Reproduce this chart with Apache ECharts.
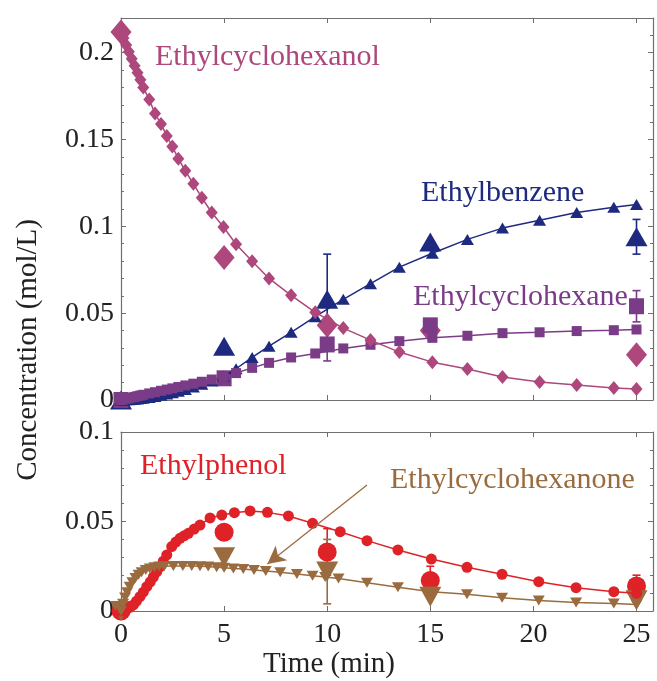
<html>
<head>
    <meta charset="utf-8">
    <script src="https://cdn.jsdelivr.net/npm/echarts@6/dist/echarts.min.js"></script>
    <style>
        html, body { margin: 0; padding: 0; background: #fff; }
        #main { width: 657px; height: 681px; }
    </style>
</head>
<body>
<div id="main"></div>
<script>
    // model time grid, top panel (min)
    var tTop = [0, 0.12, 0.25, 0.38, 0.52, 0.66, 0.8, 0.94, 1.08, 1.37, 1.65, 1.94, 2.22, 2.49, 2.78, 3.12,
        3.51, 3.92, 4.4, 4.97, 5.58, 6.36, 7.18, 8.25, 9.42, 10.78, 12.1, 13.5, 15.1, 16.8, 18.5, 20.3,
        22.1, 23.9, 25];
    var alcoholModel = [0.212, 0.2085, 0.2045, 0.2005, 0.1965, 0.1925, 0.1885, 0.1845, 0.18, 0.173, 0.165,
        0.159, 0.152, 0.146, 0.139, 0.132, 0.1245, 0.1165, 0.108, 0.0996, 0.0897, 0.0799, 0.070, 0.0603,
        0.0505, 0.0414, 0.0345, 0.0276, 0.0218, 0.0178, 0.0132, 0.0103, 0.0086, 0.0069, 0.0063];
    var benzeneModel = [0, 0.00005, 0.0001, 0.0002, 0.0003, 0.0004, 0.0006, 0.0008, 0.001, 0.0015, 0.002,
        0.0027, 0.0034, 0.0042, 0.005, 0.006, 0.0075, 0.009, 0.011, 0.0135, 0.018, 0.0245, 0.031, 0.039,
        0.048, 0.058, 0.067, 0.0765, 0.0845, 0.0925, 0.099, 0.1035, 0.108, 0.111, 0.1126];
    var hexaneModel = [0, 0.0003, 0.0007, 0.001, 0.0014, 0.0018, 0.0022, 0.0026, 0.003, 0.0038, 0.0045,
        0.0053, 0.006, 0.0067, 0.0075, 0.0084, 0.0094, 0.0105, 0.0118, 0.0133, 0.0155, 0.0185, 0.0214,
        0.0245, 0.0268, 0.0297, 0.0318, 0.0339, 0.0358, 0.037, 0.0385, 0.039, 0.0397, 0.0402, 0.0406];

    // bottom panel models
    var tPhenol = [0, 0.15, 0.3, 0.45, 0.6, 0.75, 0.92, 1.08, 1.25, 1.42, 1.57, 1.73, 1.89, 2.05, 2.22,
        2.46, 2.66, 2.86, 3.06, 3.27, 3.55, 3.83, 4.32, 4.89, 5.5, 6.26, 7.1, 8.12, 9.29, 10.63, 11.93,
        13.43, 15.05, 16.78, 18.48, 20.26, 22.07, 23.9, 25];
    var phenolModel = [0, 0.0004, 0.0012, 0.0022, 0.0034, 0.0055, 0.008, 0.0105, 0.0136, 0.0163, 0.019,
        0.0218, 0.0247, 0.0278, 0.0313, 0.036, 0.0385, 0.0406, 0.042, 0.0434, 0.0458, 0.048, 0.052,
        0.0536, 0.0549, 0.0559, 0.0551, 0.0531, 0.049, 0.0443, 0.0393, 0.0341, 0.029, 0.0244, 0.0205,
        0.0164, 0.013, 0.0108, 0.0099];
    var tKetone = [0, 0.1, 0.2, 0.3, 0.42, 0.55, 0.7, 0.85, 1.0, 1.2, 1.4, 1.62, 1.85, 2.1, 2.54, 3.0,
        3.43, 3.83, 4.23, 4.64, 5.0, 5.45, 5.93, 6.45, 7.02, 7.72, 8.53, 9.29, 9.9, 10.55, 11.93, 13.43,
        15.05, 16.78, 18.48, 20.26, 22.07, 23.9, 25];
    var ketoneModel = [0, 0.004, 0.0075, 0.0105, 0.0135, 0.016, 0.0185, 0.0203, 0.0217, 0.0229, 0.0238,
        0.0244, 0.0248, 0.025, 0.0252, 0.0252, 0.0251, 0.025, 0.0248, 0.0245, 0.0242, 0.0238, 0.0234,
        0.0229, 0.0224, 0.0216, 0.0207, 0.0197, 0.019, 0.0182, 0.0158, 0.0133, 0.0108, 0.0093, 0.0074,
        0.0058, 0.0047, 0.0042, 0.0037];

    // experiments
    var tExp = [0, 5, 10, 15, 25];
    var alcoholExp = [0.212, 0.082, 0.043, 0.040, 0.026];
    var benzeneExp = [0, 0.031, 0.058, 0.091, 0.094];
    var benzeneErr = [0, 0, 0.026, 0, 0.010];
    var hexaneExp = [0, 0.0125, 0.032, 0.043, 0.054];
    var hexaneErr = [0, 0, 0.0095, 0, 0.009];
    var phenolExp = [0, 0.044, 0.033, 0.017, 0.014];
    var phenolErr = [0, 0, 0.013, 0.008, 0.006];
    var ketoneExp = [0, 0.030, 0.022, 0.008, 0.006];
    var ketoneErr = [0, 0, 0.018, 0, 0];

    var C_ALC = '#ad477c', C_BEN = '#1d2a80', C_HEX = '#7b3c87', C_PHE = '#de2227', C_KET = '#9a6b3f';
    var FONT = 'Liberation Serif';
    var AXIS = '#6f6f6f';

    function zip(t, v) {
        return t.map(function (x, i) { return [x, v[i]]; });
    }
    function zipErr(t, v, e) {
        var out = [];
        t.forEach(function (x, i) { if (e[i] > 0) out.push([x, v[i], e[i]]); });
        return out;
    }

    var chart = echarts.init(document.getElementById('main'));

    function xAxis(grid, pos, labels) {
        return {
            type: 'value', gridIndex: grid, position: pos, min: 0, max: 25.8, interval: 5,
            axisLine: {show: true, onZero: false, lineStyle: {color: AXIS, width: 1.2}},
            axisTick: {show: true, inside: true, length: 5, lineStyle: {color: AXIS}},
            axisLabel: {show: labels, showMaxLabel: false, margin: 10, color: '#222',
                fontFamily: FONT, fontSize: 28},
            splitLine: {show: false}
        };
    }
    function yAxis(grid, pos, max, labels, hideMax) {
        return {
            type: 'value', gridIndex: grid, position: pos, min: 0, max: max, interval: 0.05,
            axisLine: {show: true, onZero: false, lineStyle: {color: AXIS, width: 1.2}},
            axisTick: {show: true, inside: true, length: 5, lineStyle: {color: AXIS}},
            minorTick: {show: true, splitNumber: 5, length: 3, lineStyle: {color: AXIS}},
            axisLabel: {show: labels, showMaxLabel: !hideMax, margin: 7, color: '#222',
                fontFamily: FONT, fontSize: 28},
            splitLine: {show: false}
        };
    }

    function modelLine(name, xi, data, color, symbol, size, rotate) {
        return {
            name: name, type: 'line', xAxisIndex: xi, yAxisIndex: xi, data: data,
            symbol: symbol, symbolSize: size, symbolRotate: rotate || 0, showSymbol: true,
            clip: false, animation: false,
            itemStyle: {color: color}, lineStyle: {color: color, width: 1.5}
        };
    }
    function expPoints(name, xi, data, color, symbol, size, rotate) {
        return {
            name: name, type: 'scatter', xAxisIndex: xi, yAxisIndex: xi, data: data,
            symbol: symbol, symbolSize: size, symbolRotate: rotate || 0, clip: false, animation: false,
            itemStyle: {color: color, opacity: 1}
        };
    }
    function errBars(xi, data, color) {
        return {
            type: 'custom', xAxisIndex: xi, yAxisIndex: xi, data: data, animation: false, clip: false,
            renderItem: function (params, api) {
                var x = api.value(0), y = api.value(1), e = api.value(2);
                var a = api.coord([x, y + e]), b = api.coord([x, y - e]);
                var st = {stroke: color, lineWidth: 1.6};
                return {
                    type: 'group', children: [
                        {type: 'line', shape: {x1: a[0], y1: a[1], x2: b[0], y2: b[1]}, style: st},
                        {type: 'line', shape: {x1: a[0] - 4, y1: a[1], x2: a[0] + 4, y2: a[1]}, style: st},
                        {type: 'line', shape: {x1: b[0] - 4, y1: b[1], x2: b[0] + 4, y2: b[1]}, style: st}
                    ]
                };
            }
        };
    }

    function label(text, x, y, color) {
        return {
            type: 'text', x: x, y: y, z: 100,
            style: {text: text, fill: color, font: '30px "' + FONT + '"', verticalAlign: 'middle'}
        };
    }

    var ketoneLine = modelLine('Ethylcyclohexanone', 2, zip(tKetone, ketoneModel), C_KET, 'triangle', [12, 10], 180);
    ketoneLine.markLine = {
        silent: true, animation: false,
        symbol: ['none', 'arrow'], symbolSize: [14, 18],
        label: {show: false},
        lineStyle: {color: C_KET, width: 1.3, type: 'solid'},
        data: [[{coord: [11.93, 0.0704]}, {coord: [7.1, 0.0262]}]]
    };

    var option = {
        animation: false,
        grid: [
            {left: 121, top: 18, width: 532, height: 382},
            {left: 121, top: 432, width: 532, height: 179}
        ],
        xAxis: [
            xAxis(0, 'bottom', false), xAxis(0, 'top', false),
            xAxis(1, 'bottom', true), xAxis(1, 'top', false)
        ],
        yAxis: [
            yAxis(0, 'left', 0.22, true, true), yAxis(0, 'right', 0.22, false, true),
            yAxis(1, 'left', 0.1, true, false), yAxis(1, 'right', 0.1, false, false)
        ],
        graphic: [
            label('Ethylcyclohexanol', 155, 57, C_ALC),
            label('Ethylbenzene', 421, 193, C_BEN),
            label('Ethylcyclohexane', 413, 297, C_HEX),
            label('Ethylphenol', 140, 466, C_PHE),
            label('Ethylcyclohexanone', 390, 480, C_KET),
            {type: 'text', x: 329, y: 664, style: {text: 'Time (min)', fill: '#222',
                font: '29px "' + FONT + '"', align: 'center', verticalAlign: 'middle'}},
            {type: 'text', x: 28, y: 350, rotation: Math.PI / 2, style: {text: 'Concentration (mol/L)',
                fill: '#222', font: '29px "' + FONT + '"', align: 'center', verticalAlign: 'middle'}}
        ],
        series: [
            modelLine('Ethylbenzene', 0, zip(tTop, benzeneModel), C_BEN, 'triangle', [13, 11]),
            modelLine('Ethylcyclohexane', 0, zip(tTop, hexaneModel), C_HEX, 'rect', [10, 10]),
            modelLine('Ethylcyclohexanol', 0, zip(tTop, alcoholModel), C_ALC, 'diamond', [12, 14]),
            errBars(0, zipErr(tExp, benzeneExp, benzeneErr), C_BEN),
            errBars(0, zipErr(tExp, hexaneExp, hexaneErr), C_HEX),
            expPoints('Ethylcyclohexanol exp', 0, zip(tExp, alcoholExp), C_ALC, 'diamond', [21, 25]),
            expPoints('Ethylbenzene exp', 0, zip(tExp, benzeneExp), C_BEN, 'triangle', [22, 19]),
            expPoints('Ethylcyclohexane exp', 0, zip(tExp, hexaneExp), C_HEX, 'rect', [15, 16]),

            modelLine('Ethylphenol', 2, zip(tPhenol, phenolModel), C_PHE, 'circle', 11),
            ketoneLine,
            errBars(2, zipErr(tExp, phenolExp, phenolErr), C_PHE),
            errBars(2, zipErr(tExp, ketoneExp, ketoneErr), C_KET),
            expPoints('Ethylphenol exp', 2, zip(tExp, phenolExp), C_PHE, 'circle', 19),
            expPoints('Ethylcyclohexanone exp', 2, zip(tExp, ketoneExp), C_KET, 'triangle', [22, 20], 180)
        ]
    };

    chart.setOption(option);
</script>
</body>
</html>
